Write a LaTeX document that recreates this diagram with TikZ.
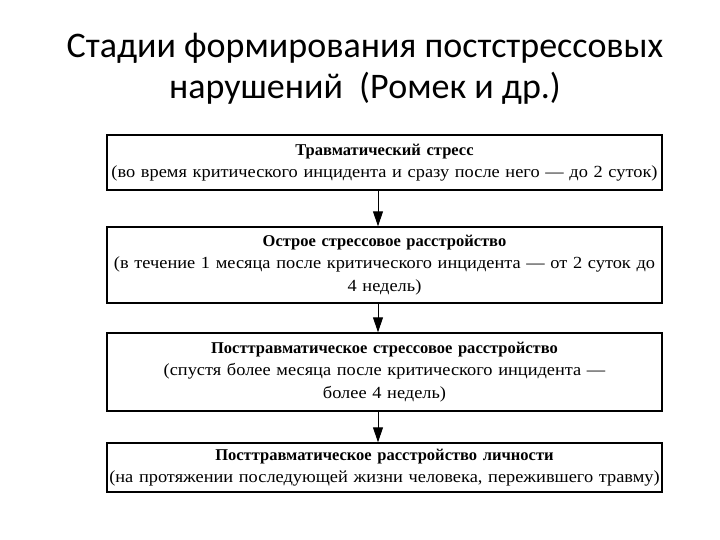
\documentclass[tikz,border=0pt]{standalone}
\usepackage{fontspec}
\setmainfont{Liberation Serif}[FakeStretch=1.08]
\newfontfamily\headfont{Liberation Serif}
\newfontfamily\titlefont{Carlito}
\usetikzlibrary{arrows.meta}

\newcommand{\stagehead}[1]{{\headfont\bfseries\fontsize{16.5}{22.5}\selectfont #1}}

\tikzset{stage/.style={draw, line width=1.4pt, rectangle, inner sep=2pt,
    text width=551pt, align=center, font=\fontsize{17}{22.5}\selectfont},
  next/.style={line width=1pt, -{Triangle[width=10pt,length=15pt]}}}

\begin{document}
\begin{tikzpicture}[x=1pt, y=-1pt]
  \useasboundingbox (0,0) rectangle (720,540);
  \node[font=\titlefont\fontsize{36}{41}\selectfont, align=center] (title) at (365,69)
    {Стадии формирования постстрессовых\\нарушений~~(Ромек и др.)};
  \coordinate (axis) at (378,0);
  \node[stage, minimum height=55pt] (trauma) at (384.5,162.5)
    {\stagehead{Травматический стресс}\\(во время критического инцидента и сразу после него — до 2 суток)};
  \node[stage, minimum height=76pt] (acute) at (384.5,265)
    {\stagehead{Острое стрессовое расстройство}\\(в течение 1 месяца после критического инцидента — от 2 суток до\\4 недель)};
  \node[stage, minimum height=78pt] (ptsd) at (384.5,372)
    {\stagehead{Посттравматическое стрессовое расстройство}\\(спустя более месяца после критического инцидента —\\более 4 недель)};
  \node[stage, minimum height=49pt] (personality) at (384.5,467.5)
    {\stagehead{Посттравматическое расстройство личности}\\(на протяжении последующей жизни человека, пережившего травму)};
  % arrows between stages
  \draw[next] (trauma.south -| axis) -- (acute.north -| axis);
  \draw[next] (acute.south -| axis) -- (ptsd.north -| axis);
  \draw[next] (ptsd.south -| axis) -- (personality.north -| axis);
\end{tikzpicture}
\end{document}
